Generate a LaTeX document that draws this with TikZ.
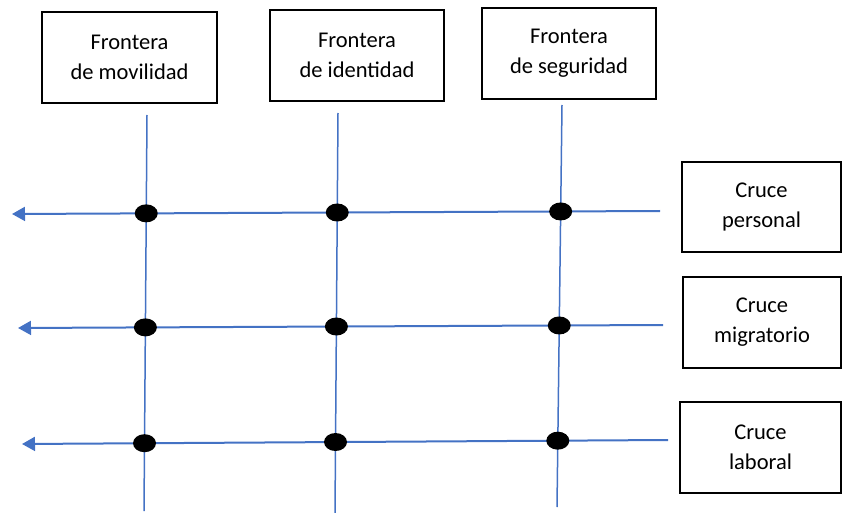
\documentclass[tikz,border=0pt]{standalone}
\usepackage{fontspec}
\setmainfont{Carlito}
\usetikzlibrary{arrows.meta,shapes.geometric}
\definecolor{lineblue}{RGB}{68,114,196}
\begin{document}
\begin{tikzpicture}[x=1pt,y=-1pt,
  lbl/.style={draw=black, line width=1.3pt, inner sep=0pt, align=center,
    font=\fontsize{22.5}{30}\selectfont, text=black},
  vline/.style={draw=lineblue, line width=1.5pt},
  hline/.style={draw=lineblue, line width=2pt, -{Triangle[length=13pt,width=14pt]}},
  dot/.style={ellipse, fill=black, minimum width=23pt, minimum height=18pt, inner sep=0pt}]
\useasboundingbox (0,0) rectangle (843,513);
% top boxes
\node[lbl, minimum width=175pt, minimum height=91pt] (fm) at (129.5,57.5) {Frontera\\de movilidad};
\node[lbl, minimum width=174pt, minimum height=91pt] (fi) at (357,55.5) {Frontera\\de identidad};
\node[lbl, minimum width=174pt, minimum height=91pt] (fs) at (569,53.5) {Frontera\\de seguridad};
% right boxes
\node[lbl, minimum width=159pt, minimum height=90pt] (cp) at (761.5,207) {Cruce\\personal};
\node[lbl, minimum width=158pt, minimum height=91pt] (cm) at (762,322.5) {Cruce\\migratorio};
\node[lbl, minimum width=161pt, minimum height=91pt] (cl) at (760.5,447.5) {Cruce\\laboral};
% line end points
\coordinate (v1t) at (147,115); \coordinate (v1b) at (144,511);
\coordinate (v2t) at (338,113); \coordinate (v2b) at (335,513);
\coordinate (v3t) at (562,105); \coordinate (v3b) at (557,507);
\coordinate (h1r) at (660,211); \coordinate (h1l) at (12,214);
\coordinate (h2r) at (663,325); \coordinate (h2l) at (18,328);
\coordinate (h3r) at (668,440); \coordinate (h3l) at (22,444);
% lines
\draw[vline] (v1t) -- (v1b);
\draw[vline] (v2t) -- (v2b);
\draw[vline] (v3t) -- (v3b);
\draw[hline] (h1r) -- (h1l);
\draw[hline] (h2r) -- (h2l);
\draw[hline] (h3r) -- (h3l);
% dots
\foreach \h in {1,2,3}{
  \foreach \v in {1,2,3}{
    \node[dot] (d\h\v) at (intersection of v\v t--v\v b and h\h r--h\h l) {};
  }
}
\end{tikzpicture}
\end{document}
